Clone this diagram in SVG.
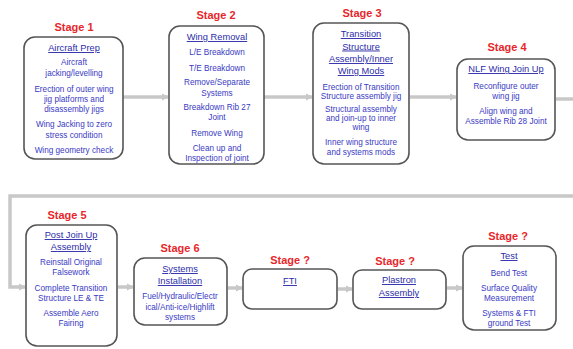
<svg xmlns="http://www.w3.org/2000/svg" width="573" height="349" viewBox="0 0 573 349">
<style>
.box{fill:#fff;stroke:#555;stroke-width:1.6}
.stg{font-family:"Liberation Sans",Arial,sans-serif;font-weight:bold;font-size:11px;fill:#e8262b;text-anchor:middle}
.ttl{font-family:"Liberation Sans",Arial,sans-serif;font-size:9.3px;fill:#2c2ca8;text-anchor:middle;text-decoration:underline}
.bd{font-family:"Liberation Sans",Arial,sans-serif;font-size:8.2px;fill:#3a3ac4;text-anchor:middle}
.con{fill:none;stroke:#c8c8c8;stroke-width:3.5}
</style>
<defs>
<marker id="ah" markerWidth="7" markerHeight="8" refX="6" refY="4" orient="auto" markerUnits="userSpaceOnUse">
<path d="M0,0.5 L7,4 L0,7.5 Z" fill="#c8c8c8"/>
</marker>
</defs>
<rect width="573" height="349" fill="#fff"/>
<g id="connectors">
<line class="con" x1="123" y1="97" x2="168" y2="97" marker-end="url(#ah)"/>
<line class="con" x1="264" y1="97" x2="312" y2="97" marker-end="url(#ah)"/>
<line class="con" x1="410" y1="97" x2="456" y2="97" marker-end="url(#ah)"/>
<line class="con" x1="556" y1="99" x2="573" y2="99"/>
<polyline class="con" points="573,196 10,196 10,287 25,287" marker-end="url(#ah)"/>
<line class="con" x1="118" y1="287" x2="133" y2="287" marker-end="url(#ah)"/>
<line class="con" x1="228" y1="288" x2="242" y2="288" marker-end="url(#ah)"/>
<line class="con" x1="338" y1="289" x2="352" y2="289" marker-end="url(#ah)"/>
<line class="con" x1="447" y1="288" x2="462" y2="288" marker-end="url(#ah)"/>
</g>
<g id="stage1">
<text class="stg" x="74" y="31">Stage 1</text>
<rect class="box" x="24" y="37" width="99" height="122" rx="11"/>
<text class="ttl" x="74" y="51">Aircraft Prep</text>
<text class="bd" x="74" y="64.5">Aircraft</text>
<text class="bd" x="74" y="75.5">jacking/levelling</text>
<text class="bd" x="74" y="91.5">Erection of outer wing</text>
<text class="bd" x="74" y="101.5">jig platforms and</text>
<text class="bd" x="74" y="111.5">disassembly jigs</text>
<text class="bd" x="74" y="126.5">Wing Jacking to zero</text>
<text class="bd" x="74" y="137.5">stress condition</text>
<text class="bd" x="74" y="152.5">Wing geometry check</text>
</g>
<g id="stage2">
<text class="stg" x="216" y="19">Stage 2</text>
<rect class="box" x="169" y="26" width="95" height="138" rx="11"/>
<text class="ttl" x="217" y="40">Wing Removal</text>
<text class="bd" x="217" y="54.5">L/E Breakdown</text>
<text class="bd" x="217" y="70.5">T/E Breakdown</text>
<text class="bd" x="217" y="84.5">Remove/Separate</text>
<text class="bd" x="217" y="95.5">Systems</text>
<text class="bd" x="217" y="109.5">Breakdown Rib 27</text>
<text class="bd" x="217" y="119.5">Joint</text>
<text class="bd" x="217" y="135.5">Remove Wing</text>
<text class="bd" x="217" y="150.5">Clean up and</text>
<text class="bd" x="217" y="160.5">Inspection of joint</text>
</g>
<g id="stage3">
<text class="stg" x="362" y="17">Stage 3</text>
<rect class="box" x="313" y="23" width="96" height="141" rx="11"/>
<text class="ttl" x="361" y="37">Transition</text>
<text class="ttl" x="361" y="49.5">Structure</text>
<text class="ttl" x="361" y="62">Assembly/Inner</text>
<text class="ttl" x="361" y="74">Wing Mods</text>
<text class="bd" x="361" y="89.5">Erection of Transition</text>
<text class="bd" x="361" y="98.5">Structure assembly jig</text>
<text class="bd" x="361" y="111.5">Structural assembly</text>
<text class="bd" x="361" y="120.5">and join-up to inner</text>
<text class="bd" x="361" y="129.5">wing</text>
<text class="bd" x="361" y="144.5">Inner wing structure</text>
<text class="bd" x="361" y="154.5">and systems mods</text>
</g>
<g id="stage4">
<text class="stg" x="507" y="51">Stage 4</text>
<rect class="box" x="457" y="59" width="98" height="81" rx="11"/>
<text class="ttl" x="506" y="72">NLF Wing Join Up</text>
<text class="bd" x="506" y="88.5">Reconfigure outer</text>
<text class="bd" x="506" y="98.5">wing jig</text>
<text class="bd" x="506" y="113.5">Align wing and</text>
<text class="bd" x="506" y="123.5">Assemble Rib 28 Joint</text>
</g>
<g id="stage5">
<text class="stg" x="67" y="219">Stage 5</text>
<rect class="box" x="26" y="225" width="91" height="121" rx="11"/>
<text class="ttl" x="71" y="238">Post Join Up</text>
<text class="ttl" x="71" y="250">Assembly</text>
<text class="bd" x="71" y="264.5">Reinstall Original</text>
<text class="bd" x="71" y="274.5">Falsework</text>
<text class="bd" x="71" y="290.5">Complete Transition</text>
<text class="bd" x="71" y="300.5">Structure LE &amp; TE</text>
<text class="bd" x="71" y="315.5">Assemble Aero</text>
<text class="bd" x="71" y="325.5">Fairing</text>
</g>
<g id="stage6">
<text class="stg" x="180" y="252">Stage 6</text>
<rect class="box" x="134" y="258" width="93" height="67" rx="11"/>
<text class="ttl" x="180" y="272">Systems</text>
<text class="ttl" x="180" y="284">Installation</text>
<text class="bd" x="180" y="298.5">Fuel/Hydraulic/Electr</text>
<text class="bd" x="180" y="309.5">ical/Anti-ice/Highlift</text>
<text class="bd" x="180" y="319.5">systems</text>
</g>
<g id="stageFTI">
<text class="stg" x="290" y="264">Stage ?</text>
<rect class="box" x="243" y="269" width="94" height="40" rx="9"/>
<text class="ttl" x="290" y="284">FTI</text>
</g>
<g id="stagePlastron">
<text class="stg" x="395" y="265">Stage ?</text>
<rect class="box" x="353" y="270" width="93" height="39" rx="9"/>
<text class="ttl" x="399" y="283">Plastron</text>
<text class="ttl" x="399" y="296">Assembly</text>
</g>
<g id="stageTest">
<text class="stg" x="508" y="240">Stage ?</text>
<rect class="box" x="463" y="246" width="93" height="84" rx="11"/>
<text class="ttl" x="509" y="259">Test</text>
<text class="bd" x="509" y="275.5">Bend Test</text>
<text class="bd" x="509" y="290.5">Surface Quality</text>
<text class="bd" x="509" y="300.5">Measurement</text>
<text class="bd" x="509" y="315.5">Systems &amp; FTI</text>
<text class="bd" x="509" y="325.5">ground Test</text>
</g>
</svg>
